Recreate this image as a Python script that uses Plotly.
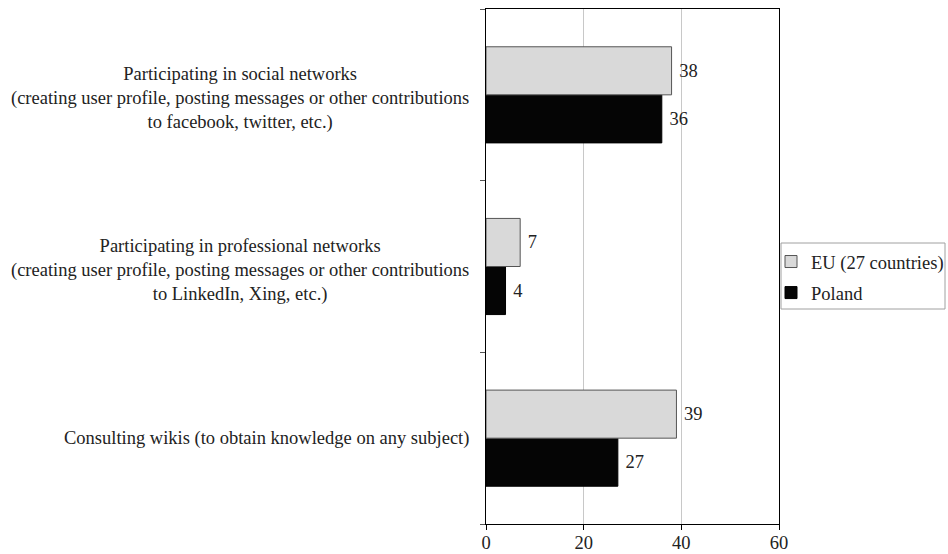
import plotly.graph_objects as go

# Categories, listed top to bottom
categories = [
    "Participating in social networks<br>(creating user profile, posting messages or other contributions<br>to facebook, twitter, etc.)",
    "Participating in professional networks<br>(creating user profile, posting messages or other contributions<br>to LinkedIn, Xing, etc.)",
    "Consulting wikis (to obtain knowledge on any subject)",
]
eu_values = [38, 7, 39]
poland_values = [36, 4, 27]
x_ticks = [0, 20, 40, 60]

FONT = "Liberation Serif, Times New Roman, serif"
FS = 18.5
TEXT = "#222222"

# plot-area geometry in pixels (used to place the legend frame)
W, H = 948, 554
L, R, T, B = 486, 169, 9, 30
pw, ph = W - L - R, H - T - B


def px_x(x):
    return (x - L) / pw


def px_y(y):
    return (H - B - y) / ph


# numeric positions so the first category sits at the top
n = len(categories)
ypos = [n - 1 - i for i in range(n)]

fig = go.Figure()
# Poland is added first so that it sits below EU within each group
fig.add_trace(go.Bar(
    name="Poland", y=ypos, x=poland_values, orientation="h",
    legendgroup="pl", legendrank=2,
    marker=dict(color="#050505", line=dict(color="#000000", width=1)),
    text=poland_values, texttemplate=" %{x}", textposition="outside",
    textfont=dict(family=FONT, size=FS, color=TEXT), cliponaxis=False,
))
fig.add_trace(go.Bar(
    name="EU (27 countries)", y=ypos, x=eu_values, orientation="h",
    legendgroup="eu", legendrank=1,
    marker=dict(color="#d9d9d9", line=dict(color="#555555", width=1)),
    text=eu_values, texttemplate=" %{x}", textposition="outside",
    textfont=dict(family=FONT, size=FS, color=TEXT), cliponaxis=False,
))

# category labels, centred line by line to the left of the plot
for label, y in zip(categories, ypos):
    multi = "<br>" in label
    fig.add_annotation(
        text=label, x=-0.05, y=y, xref="paper", yref="y",
        xanchor="right", yanchor="middle", align="center", showarrow=False,
        yshift=-4 if multi else 0,
        font=dict(family=FONT, size=FS, color=TEXT),
    )

# legend frame
fig.add_shape(
    type="rect", xref="paper", yref="paper",
    x0=px_x(781), x1=px_x(945), y0=px_y(309), y1=px_y(243),
    line=dict(color="#a0a0a0", width=1), fillcolor="rgba(0,0,0,0)", layer="above",
)

fig.update_layout(
    width=W, height=H,
    margin=dict(l=L, r=R, t=T, b=B, autoexpand=False),
    paper_bgcolor="white", plot_bgcolor="white",
    barmode="group", bargap=0.44, bargroupgap=0,
    font=dict(family=FONT, size=FS, color=TEXT),
    showlegend=True,
    legend=dict(
        x=px_x(771), y=px_y(243), xanchor="left", yanchor="top",
        traceorder="grouped", tracegroupgap=4,
        borderwidth=0, bgcolor="rgba(0,0,0,0)",
        font=dict(family=FONT, size=FS, color=TEXT),
    ),
    xaxis=dict(
        range=[0, 60], tickvals=x_ticks, ticks="outside", ticklen=5,
        ticklabelstandoff=-3,
        tickcolor="#000000", showline=True, linecolor="#000000", linewidth=1,
        mirror=True, showgrid=True, gridcolor="#c8c8c8", gridwidth=1,
        zeroline=False, tickfont=dict(family=FONT, size=FS, color=TEXT),
    ),
    yaxis=dict(
        range=[-0.5, n - 0.5], tickvals=[i - 0.5 for i in range(n + 1)],
        ticks="outside", ticklen=5, tickcolor="#555555", showticklabels=False,
        showline=True, linecolor="#000000", linewidth=1, mirror=True,
        showgrid=False, zeroline=False,
    ),
)

fig.write_html("out.html")
